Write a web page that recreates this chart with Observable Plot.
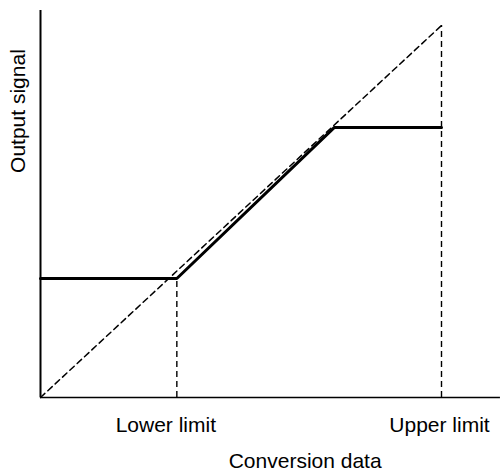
<!DOCTYPE html>
<html>
<head>
<meta charset="utf-8">
<script src="https://cdn.jsdelivr.net/npm/d3@7"></script>
<script src="https://cdn.jsdelivr.net/npm/@observablehq/plot@0.6"></script>
<style>
  html, body { margin: 0; padding: 0; background: #fff; }
  svg { display: block; }
</style>
</head>
<body>
<div id="chart"></div>
<script>
// Conversion data (x) in % of span: lower and upper limits
const limitValues = [34, 100];
const limitLabels = ["Lower limit", "Upper limit"];
// Clamped output signal (solid line)
const outputX = [0, 34, 73.3, 100];
const outputY = [32, 32, 72.6, 72.6];
// Unclamped ideal conversion (dashed diagonal)
const idealX = [0, 100];
const idealY = [0, 100];
// Axis extents
const xAxisEnd = 114.7;
const yAxisEnd = 104;
const xTitle = "Conversion data";
const yTitle = "Output signal";
const yTitlePos = 77;

const output = outputX.map((x, i) => ({x, y: outputY[i]}));
const ideal = idealX.map((x, i) => ({x, y: idealY[i]}));
const limits = limitValues.map((x, i) => ({x, label: limitLabels[i], top: i === 0 ? outputY[0] : idealY[1]}));

const font = "'Liberation Sans', Arial, Helvetica, sans-serif";

const chart = Plot.plot({
  width: 501,
  height: 472,
  marginLeft: 40,
  marginRight: 1,
  marginTop: 25,
  marginBottom: 75,
  x: {domain: [0, 100], range: [40, 441]},
  y: {domain: [0, 100], range: [397, 25]},
  axis: null,
  style: {fontFamily: font, fontSize: "21px", background: "#fff", color: "#000"},
  marks: [
    // dashed ideal diagonal
    Plot.line(ideal, {x: "x", y: "y", stroke: "#000", strokeWidth: 1.5, strokeDasharray: "6,4"}),
    // dashed vertical guides at limits
    Plot.ruleX(limits, {x: "x", y1: 0, y2: "top", stroke: "#000", strokeWidth: 1.4, strokeDasharray: "6,4"}),
    // axes
    Plot.ruleY([0], {x1: 0, x2: xAxisEnd, stroke: "#000", strokeWidth: 1.6}),
    Plot.ruleX([0], {y1: 0, y2: yAxisEnd, stroke: "#000", strokeWidth: 2}),
    // clamped output
    Plot.line(output, {x: "x", y: "y", stroke: "#000", strokeWidth: 3, strokeLinejoin: "miter"}),
    // limit labels
    Plot.text(limits.slice(0, 1), {x: "x", y: () => 0, text: "label", dy: 28, dx: -11, fontSize: 21, fill: "#000"}),
    Plot.text(limits.slice(1), {x: "x", y: () => 0, text: "label", dy: 28, dx: -2, fontSize: 21, fill: "#000"}),
    // x title
    Plot.text([xTitle], {x: () => 66, y: () => 0, dy: 64, fontSize: 21, fill: "#000"}),
    // y title
    Plot.text([yTitle], {x: () => 0, y: () => yTitlePos, dx: -22, rotate: -90, fontSize: 21, fill: "#000"})
  ]
});
document.getElementById("chart").appendChild(chart);
</script>
</body>
</html>
